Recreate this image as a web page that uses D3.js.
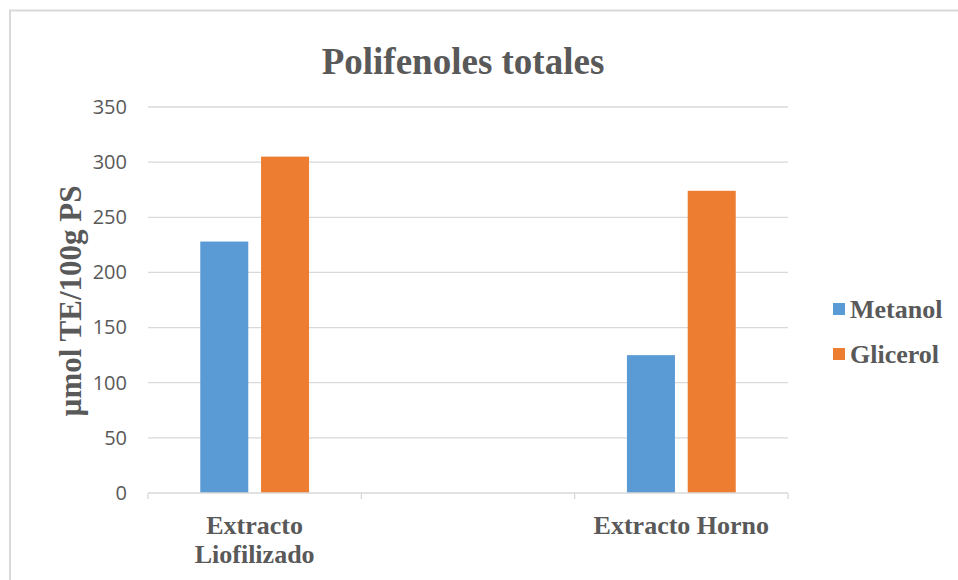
<!DOCTYPE html>
<html><head><meta charset="utf-8">
<script src="https://cdn.jsdelivr.net/npm/d3@7"></script>
<style>body{margin:0;background:#fff}svg{display:block}</style>
</head><body>
<svg id="c" width="958" height="580"></svg>
<script>
const categories = ["Extracto Liofilizado", "", "Extracto Horno"];
const seriesNames = ["Metanol", "Glicerol"];
const metanol = [228, null, 125];
const glicerol = [305, null, 274];
const yTicks = [0, 50, 100, 150, 200, 250, 300, 350];
const colors = ["#5b9bd5", "#ed7d31"];

const svg = d3.select("#c");
const m = {left: 148, right: 788, top: 107, bottom: 493};

svg.append("rect").attr("x", 10).attr("y", 10.5).attr("width", 1000).attr("height", 700)
  .attr("fill", "#fff").attr("stroke", "#d9d9d9").attr("stroke-width", 2);

const x = d3.scaleBand().domain(d3.range(categories.length)).range([m.left, m.right]).padding(0);
const y = d3.scaleLinear().domain([0, 350]).range([m.bottom, m.top]);
const inner = d3.scaleBand().domain(seriesNames).range([0, x.bandwidth()]).paddingOuter(0.86).paddingInner(0.21);

// gridlines
svg.append("g").selectAll("line").data(yTicks.filter(d => d > 0)).join("line")
  .attr("x1", m.left).attr("x2", m.right)
  .attr("y1", d => y(d)).attr("y2", d => y(d))
  .attr("stroke", "#d9d9d9").attr("stroke-width", 1.3);

// y tick labels
const ya = svg.append("g").attr("transform", `translate(${m.left},0)`)
  .call(d3.axisLeft(y).tickValues(yTicks).tickSize(0).tickPadding(21));
ya.select(".domain").remove();
ya.selectAll("text").attr("font-family", "Open Sans, sans-serif").attr("font-size", 20)
  .attr("fill", "#595959");

// bars
const data = [metanol, glicerol];
seriesNames.forEach((s, si) => {
  svg.append("g").selectAll("rect").data(data[si].map((v, i) => ({v, i})).filter(d => d.v != null))
    .join("rect")
    .attr("x", d => x(d.i) + inner(s))
    .attr("width", inner.bandwidth())
    .attr("y", d => y(d.v))
    .attr("height", d => y(0) - y(d.v))
    .attr("fill", colors[si]);
});

// x axis
const xa = svg.append("g").attr("transform", `translate(0,${m.bottom})`);
xa.append("line").attr("x1", m.left).attr("x2", m.right).attr("stroke", "#d9d9d9").attr("stroke-width", 1.3);
const edges = d3.range(categories.length + 1).map(i => m.left + i * x.bandwidth());
xa.selectAll("line.t").data(edges).join("line").attr("class", "t")
  .attr("x1", d => d).attr("x2", d => d).attr("y1", 0).attr("y2", 6)
  .attr("stroke", "#d9d9d9").attr("stroke-width", 1.3);

const labelLines = [["Extracto", "Liofilizado"], [], ["Extracto Horno"]];
labelLines.forEach((lines, i) => {
  lines.forEach((t, j) => {
    svg.append("text").attr("x", x(i) + x.bandwidth() / 2).attr("y", 534 + j * 29)
      .attr("text-anchor", "middle").attr("font-family", "Liberation Serif, serif")
      .attr("font-weight", "bold").attr("font-size", 26).attr("fill", "#595959").text(t);
  });
});

// title
svg.append("text").attr("x", 463).attr("y", 74).attr("text-anchor", "middle")
  .attr("font-family", "Liberation Serif, serif").attr("font-weight", "bold")
  .attr("font-size", 37).attr("fill", "#595959").text("Polifenoles totales");

// y axis title
svg.append("text").attr("transform", "translate(81,301) rotate(-90)").attr("text-anchor", "middle")
  .attr("font-family", "Liberation Serif, serif").attr("font-weight", "bold")
  .attr("font-size", 31).attr("fill", "#595959").text("µmol TE/100g PS");

// legend
const lg = svg.append("g");
seriesNames.forEach((s, i) => {
  const yy = 309 + i * 45;
  lg.append("rect").attr("x", 833).attr("y", yy - 6).attr("width", 12).attr("height", 12).attr("fill", colors[i]);
  lg.append("text").attr("x", 850).attr("y", yy + 9).attr("font-family", "Liberation Serif, serif")
    .attr("font-weight", "bold").attr("font-size", 26).attr("fill", "#595959").text(s);
});
</script>
</body></html>
